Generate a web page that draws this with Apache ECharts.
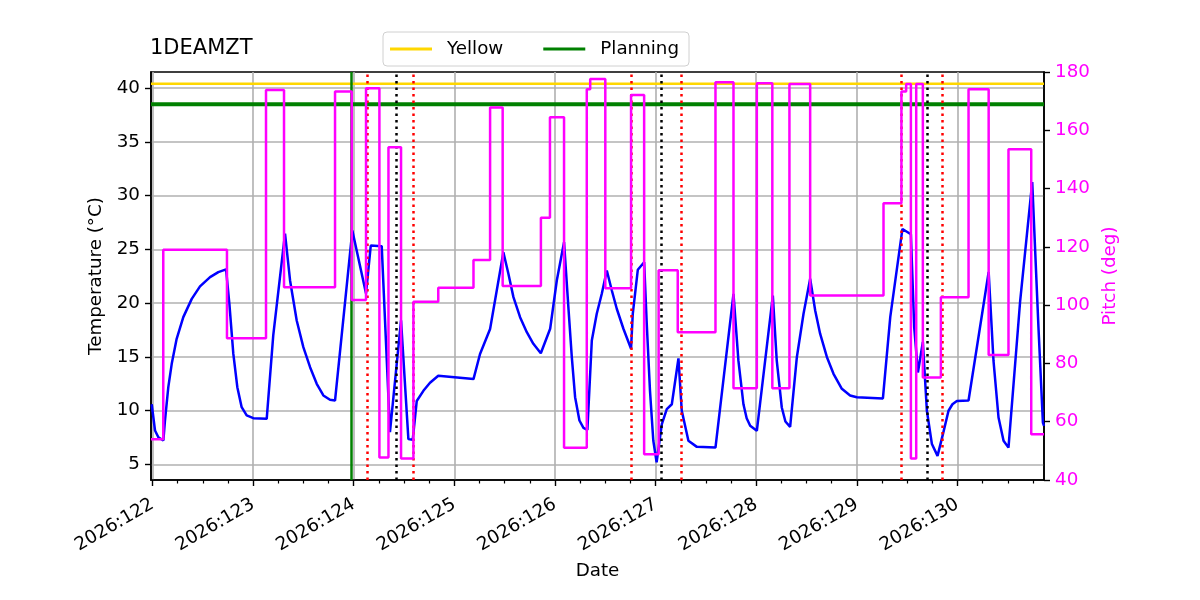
<!DOCTYPE html>
<html>
<head>
<meta charset="utf-8">
<script src="https://cdn.jsdelivr.net/npm/echarts@6/dist/echarts.min.js"></script>
<style>
  html, body { margin: 0; padding: 0; background: #fff; }
  #chart { width: 1200px; height: 600px; }
</style>
</head>
<body>
<div id="chart"></div>
<script>
// day of year (2026) for every reading
const tempDay = [121.992, 122.025, 122.058, 122.108, 122.124, 122.157, 122.191, 122.24, 122.306, 122.39, 122.472,
  122.572, 122.654, 122.731, 122.764, 122.803, 122.843, 122.886, 122.936, 123.002, 123.135, 123.2, 123.317,
  123.367, 123.433, 123.499, 123.566, 123.632, 123.698, 123.764, 123.814, 123.986, 124.122, 124.169, 124.278,
  124.36, 124.47, 124.543, 124.586, 124.626, 124.692, 124.758, 124.84, 125.19, 125.255, 125.355, 125.487,
  125.537, 125.587, 125.653, 125.72, 125.785, 125.859, 125.952, 126.018, 126.09, 126.133, 126.167, 126.2,
  126.243, 126.283, 126.322, 126.366, 126.415, 126.465, 126.515, 126.565, 126.614, 126.68, 126.756, 126.773,
  126.823, 126.886, 126.912, 126.944, 126.977, 127.01, 127.062, 127.111, 127.161, 127.227, 127.26, 127.326,
  127.41, 127.595, 127.774, 127.823, 127.873, 127.905, 127.94, 128.006, 128.165, 128.204, 128.254, 128.29,
  128.337, 128.404, 128.47, 128.536, 128.586, 128.635, 128.702, 128.768, 128.851, 128.933, 129.0, 129.259,
  129.332, 129.453, 129.537, 129.57, 129.607, 129.656, 129.696, 129.746, 129.802, 129.855, 129.911, 129.95,
  129.994, 130.11, 130.31, 130.358, 130.408, 130.458, 130.507, 130.623, 130.743, 130.805, 130.849, 130.86];
const tempC = [10.6, 8.16, 7.54, 7.23, 9.09, 12.19, 14.36, 16.69, 18.7, 20.4, 21.56,
  22.42, 22.89, 23.14, 19.94, 15.3, 12.19, 10.33, 9.56, 9.31, 9.25, 17.0, 26.46,
  22.11, 18.39, 15.91, 14.05, 12.5, 11.42, 11.02, 10.95, 26.75, 20.9, 25.35, 25.3,
  8.0, 18.4, 7.36, 7.3, 10.9, 11.85, 12.6, 13.25, 12.94, 15.27, 17.6, 24.74,
  22.73, 20.56, 18.7, 17.3, 16.22, 15.35, 17.62, 22.11, 25.67, 19.63, 15.0, 11.26,
  9.09, 8.41, 8.22, 16.53, 19.01, 20.87, 23.04, 21.18, 19.48, 17.62, 15.76, 19.01,
  23.1, 23.81, 18.08, 11.88, 7.23, 5.21, 8.75, 10.15, 10.6, 14.86, 9.99, 7.2,
  6.64, 6.57, 20.86, 14.65, 10.6, 9.3, 8.6, 8.13, 20.7, 14.65, 10.3, 9.0,
  8.5, 15.0, 19.01, 22.27, 19.32, 17.16, 15.0, 13.43, 12.04, 11.42, 11.26, 11.14,
  18.7, 26.9, 26.4, 17.75, 13.56, 16.4, 10.0, 6.9, 5.8, 7.8, 10.0, 10.6,
  10.9, 10.95, 22.9, 14.65, 9.37, 7.2, 6.57, 20.2, 31.25, 17.75, 8.9, 8.6];

// pitch holds each value from its day until the next one
const pitchDay = [121.985, 122.107, 122.74, 123.128, 123.307, 123.814, 123.98, 124.122, 124.255, 124.345, 124.47,
  124.593, 124.84, 125.19, 125.355, 125.48, 125.86, 125.95, 126.09, 126.316, 126.35, 126.5, 126.756, 126.886,
  127.03, 127.22, 127.595, 127.774, 128.006, 128.16, 128.33, 128.536, 129.265, 129.443, 129.49, 129.537, 129.59,
  129.656, 129.835, 130.11, 130.31, 130.507, 130.733, 130.86];
const pitchDeg = [54, 119, 88.6, 173.8, 106.1, 173.3, 101.8, 174.4, 47.7, 154.2, 47.4,
  101.2, 106, 115.5, 167.8, 106.6, 130, 164.5, 51.1, 174.1, 177.6, 105.8, 172.1, 48.8,
  112, 90.7, 176.5, 71.5, 176.1, 71.5, 175.9, 103.3, 135, 173.3, 175.9, 47.4, 175.9,
  75.2, 102.7, 174.1, 82.9, 153.5, 55.7, 55.7];

const yellowLimit = 40.4;
const planningLimit = 38.5;
const planningDay = 123.98;
const redDays = [124.125, 124.593, 126.757, 127.25, 129.443, 129.85];
const blackDays = [124.424, 127.055, 129.70];

const dayTicks = [122, 123, 124, 125, 126, 127, 128, 129, 130];
const minorDayTicks = [122.25, 122.5, 122.75, 123.25, 123.5, 123.75, 124.25, 124.5, 124.75, 125.25, 125.5, 125.75,
  126.25, 126.5, 126.75, 127.25, 127.5, 127.75, 128.25, 128.5, 128.75, 129.25, 129.5, 129.75, 130.25, 130.5, 130.75];
const tempTicks = [5, 10, 15, 20, 25, 30, 35, 40];

const X0 = 121.985, X1 = 130.86;
const FONT = 'DejaVu Sans';
const FS = 18.3;

const chart = echarts.init(document.getElementById('chart'));

function vline(x, color) {
  return { xAxis: x, lineStyle: { color: color, width: 2.5, type: [2.5, 4] } };
}

chart.setOption({
  animation: false,
  textStyle: { fontFamily: FONT },
  title: {
    text: '1DEAMZT', left: 150, top: 38, padding: 0,
    textStyle: { fontFamily: FONT, fontSize: 21, fontWeight: 'normal', color: '#000' }
  },
  legend: {
    left: 383, top: 32, padding: [8, 10, 8, 7], itemGap: 40,
    itemWidth: 42, itemHeight: 3, icon: 'rect',
    borderColor: '#d0d0d0', borderWidth: 1, borderRadius: 4,
    data: ['Yellow', 'Planning'],
    textStyle: { fontFamily: FONT, fontSize: FS, color: '#000', padding: [0, 0, 0, 10] }
  },
  grid: {
    left: 151, right: 156, top: 72, bottom: 120,
    show: true, borderColor: '#000', borderWidth: 1.6, backgroundColor: 'transparent'
  },
  xAxis: [{
    type: 'value', min: X0, max: X1, position: 'bottom',
    name: 'Date', nameLocation: 'middle', nameGap: 82,
    nameTextStyle: { fontFamily: FONT, fontSize: FS, color: '#000' },
    axisLine: { show: true, lineStyle: { color: '#000', width: 1.6 } },
    axisTick: { show: true, length: 6, lineStyle: { color: '#000', width: 1.4 }, customValues: dayTicks },
    axisLabel: {
      customValues: dayTicks, rotate: 30, margin: 23,
      fontFamily: FONT, fontSize: FS, color: '#000',
      formatter: v => '2026:' + Math.round(v)
    },
    splitLine: { show: true, lineStyle: { color: '#b0b0b0', width: 1.6 } }
  }, {
    type: 'value', min: X0, max: X1, position: 'bottom',
    axisLine: { show: false },
    axisTick: { show: true, length: 3.5, lineStyle: { color: '#000', width: 1.2 }, customValues: minorDayTicks },
    axisLabel: { show: false },
    splitLine: { show: false }
  }],
  yAxis: [{
    type: 'value', min: 3.56, max: 41.49, position: 'left',
    name: 'Temperature (°C)', nameLocation: 'middle', nameGap: 46, nameRotate: 90,
    nameTextStyle: { fontFamily: FONT, fontSize: FS, color: '#000' },
    axisLine: { show: true, lineStyle: { color: '#000', width: 1.6 } },
    axisTick: { show: true, length: 6, lineStyle: { color: '#000', width: 1.4 }, customValues: tempTicks },
    axisLabel: { customValues: tempTicks, margin: 11, fontFamily: FONT, fontSize: FS, color: '#000' },
    splitLine: { show: true, lineStyle: { color: '#b0b0b0', width: 1.6 } }
  }, {
    type: 'value', min: 40, max: 180, interval: 20, position: 'right',
    name: 'Pitch (deg)', nameLocation: 'middle', nameGap: 52, nameRotate: 90,
    nameTextStyle: { fontFamily: FONT, fontSize: FS, color: '#ff00ff' },
    axisLine: { show: true, lineStyle: { color: '#000', width: 1.6 } },
    axisTick: { show: true, length: 6, lineStyle: { color: '#000', width: 1.4 } },
    axisLabel: { margin: 11, fontFamily: FONT, fontSize: FS, color: '#ff00ff' },
    splitLine: { show: false }
  }],
  series: [{
    name: 'Temperature', type: 'line', xAxisIndex: 0, yAxisIndex: 0,
    data: tempDay.map((d, i) => [d, tempC[i]]),
    showSymbol: false, silent: true,
    lineStyle: { color: '#0000ff', width: 2.5 }, itemStyle: { color: '#0000ff' },
    z: 3
  }, {
    name: 'Yellow', type: 'line', xAxisIndex: 0, yAxisIndex: 0,
    data: [[X0, yellowLimit], [X1, yellowLimit]],
    showSymbol: false, silent: true,
    lineStyle: { color: '#ffd700', width: 2.5 }, itemStyle: { color: '#ffd700' },
    z: 4
  }, {
    name: 'Planning', type: 'line', xAxisIndex: 0, yAxisIndex: 0,
    data: [[X0, planningLimit], [X1, planningLimit]],
    showSymbol: false, silent: true,
    lineStyle: { color: '#008000', width: 4 }, itemStyle: { color: '#008000' },
    markLine: {
      silent: true, symbol: 'none', label: { show: false }, animation: false,
      data: [{ xAxis: planningDay, lineStyle: { color: '#008000', width: 2.5, type: 'solid' } }]
    },
    z: 4
  }, {
    name: 'events', type: 'line', xAxisIndex: 0, yAxisIndex: 0, data: [],
    markLine: {
      silent: true, symbol: 'none', label: { show: false }, animation: false,
      data: redDays.map(d => vline(d, '#ff0000')).concat(blackDays.map(d => vline(d, '#000000')))
    },
    z: 4
  }, {
    name: 'Pitch', type: 'line', xAxisIndex: 0, yAxisIndex: 1, step: 'end',
    data: pitchDay.map((d, i) => [d, pitchDeg[i]]),
    showSymbol: false, silent: true,
    lineStyle: { color: '#ff00ff', width: 2.5 }, itemStyle: { color: '#ff00ff' },
    z: 5
  }]
});
</script>
</body>
</html>
